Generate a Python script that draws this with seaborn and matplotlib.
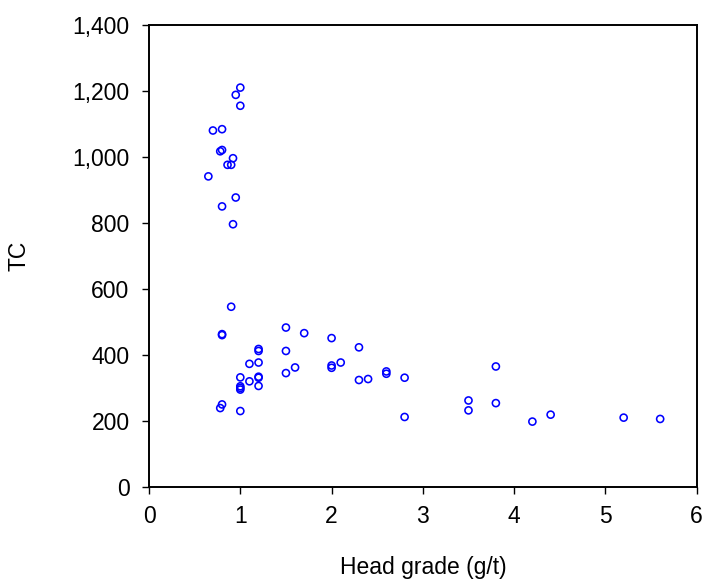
#!/usr/bin/env python3
"""Scatter of treatment charge (TC) against ore head grade."""

import matplotlib
matplotlib.use("Agg")
import matplotlib.pyplot as plt
import numpy as np
import pandas as pd
import seaborn as sns
from matplotlib.ticker import FuncFormatter

# values
head_grade = [
    1.0, 0.95, 1.0, 0.8, 0.7, 0.8, 0.78, 0.92, 0.86, 0.9, 0.65, 0.95, 0.8, 0.92,
    0.9, 0.8, 0.8, 1.5, 1.7, 2.0, 2.3, 1.2, 1.2, 1.5, 1.1, 1.2, 1.6, 2.0, 2.0,
    2.1, 1.0, 1.2, 1.2, 1.5, 1.1, 1.0, 1.0, 1.0, 1.2, 2.3, 2.4, 2.6, 2.6, 2.8,
    0.8, 0.78, 1.0, 2.8, 3.8, 3.5, 3.5, 3.8, 4.2, 4.4, 5.2, 5.6,
]
tc = [
    1210, 1188, 1155, 1084, 1080, 1021, 1017, 996, 976, 976, 941, 877, 850, 796,
    546, 463, 460, 483, 466, 451, 423, 418, 412, 412, 373, 377, 362, 368, 361,
    377, 332, 334, 331, 345, 320, 305, 300, 295, 306, 324, 327, 350, 343, 331,
    250, 239, 230, 212, 365, 262, 232, 254, 198, 219, 210, 206,
]
x_ticks = [0, 1, 2, 3, 4, 5, 6]
y_ticks = [0, 200, 400, 600, 800, 1000, 1200, 1400]


def main() -> None:
    sns.set_style("ticks")
    plt.rcParams["font.family"] = ["Liberation Sans", "DejaVu Sans"]

    df = pd.DataFrame({"grade": head_grade, "tc": tc})

    fig = plt.figure(figsize=(7.03, 5.79), dpi=100)
    ax = fig.add_axes([0.212, 0.159, 0.779, 0.798])

    sns.scatterplot(
        data=df, x="grade", y="tc", ax=ax,
        marker="o", s=26, facecolor="none", edgecolor="#0000FF", linewidth=1.15,
    )

    ax.set_xlim(0, 6)
    ax.set_ylim(0, 1400)
    ax.set_xticks(x_ticks)
    ax.set_yticks(y_ticks)
    ax.yaxis.set_major_formatter(FuncFormatter(lambda v, _: f"{int(v):,}"))
    ax.tick_params(direction="out", length=5, width=1, labelsize=16.5, colors="black")
    ax.tick_params(axis="x", pad=8)
    ax.tick_params(axis="y", pad=9)

    for side in ("left", "right", "top", "bottom"):
        ax.spines[side].set_visible(True)
        ax.spines[side].set_color("black")
        ax.spines[side].set_linewidth(1.4)

    ax.set_xlabel("Head grade (g/t)", fontsize=16.5, labelpad=20, color="black")
    ax.set_ylabel("TC", fontsize=16.5, labelpad=30, color="black")

    fig.savefig("out.png", dpi=100)
    plt.close(fig)


if __name__ == "__main__":
    main()
